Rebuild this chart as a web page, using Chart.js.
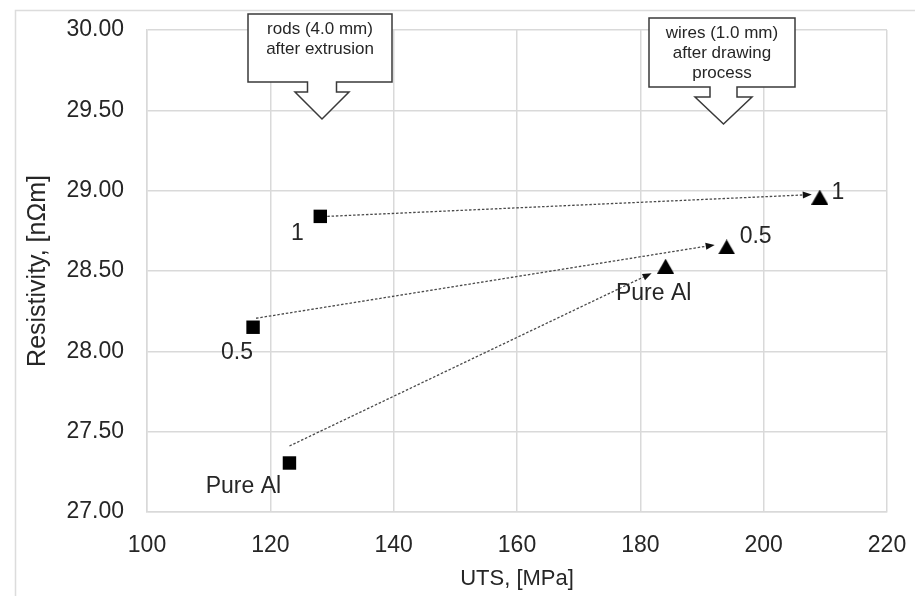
<!DOCTYPE html>
<html><head><meta charset="utf-8">
<script src="https://cdn.jsdelivr.net/npm/chart.js@4"></script>
<style>html,body{margin:0;padding:0;background:#fff;overflow:hidden}canvas{display:block}</style>
</head><body>
<canvas id="c" width="915" height="596"></canvas>
<script>
// ---- data ----
const pointLabels = ['Pure Al', '0.5', '1'];
const rodUTS = [123.1, 117.2, 128.1];
const rodResistivity = [27.305, 28.15, 28.84];
const wireUTS = [184.1, 194.0, 209.1];
const wireResistivity = [28.53, 28.65, 28.96];
const xTicks = [100, 120, 140, 160, 180, 200, 220];
const yTicks = [27.0, 27.5, 28.0, 28.5, 29.0, 29.5, 30.0];
const rodsCalloutText = ['rods (4.0 mm)', 'after extrusion'];
const wiresCalloutText = ['wires (1.0 mm)', 'after drawing', 'process'];
const xTitle = 'UTS, [MPa]';
const yTitle = 'Resistivity, [nΩm]';

// ---- style ----
const FONT = "'Liberation Sans', Arial, sans-serif";
const TEXT = '#262626';
const GRID = '#d9d9d9';

function triangleMarker(w, h, color) {
  const c = document.createElement('canvas');
  c.width = w; c.height = h;
  const g = c.getContext('2d');
  g.fillStyle = color;
  g.beginPath(); g.moveTo(0, h); g.lineTo(w, h); g.lineTo(w / 2, 0); g.closePath(); g.fill();
  return c;
}

const style = {
  rodLabelOffsets: [[-46, 24], [-16, 25], [-23, 17]],
  wireLabelOffsets: [[-12, 27], [29, -10], [18, -4]],
  arrowStartOffsets: [[0, -17], [3, -9], [7, 0]],
  arrowEndOffsets: [[-14, 7], [-12, -2], [-8, -2.5]],
  callouts: [
    { lines: rodsCalloutText, L: 248, R: 392, T: 14, B: 82, cx: 322, stemHalf: 14.5, stemH: 10, wingHalf: 27, tipY: 119 },
    { lines: wiresCalloutText, L: 649, R: 795, T: 18, B: 87, cx: 723.5, stemHalf: 13.5, stemH: 10, wingHalf: 28.5, tipY: 124 }
  ]
};

const framePlugin = {
  id: 'frame',
  beforeDraw(chart) {
    const ctx = chart.ctx;
    ctx.save();
    ctx.fillStyle = '#fff';
    ctx.fillRect(0, 0, chart.width, chart.height);
    ctx.strokeStyle = '#dcdcdc';
    ctx.lineWidth = 1.5;
    ctx.beginPath();
    ctx.moveTo(15.5, chart.height + 2); ctx.lineTo(15.5, 10.5); ctx.lineTo(chart.width + 2, 10.5);
    ctx.stroke();
    ctx.restore();
  }
};

const annotPlugin = {
  id: 'annot',
  afterDatasetsDraw(chart) {
    const ctx = chart.ctx;
    const xs = chart.scales.x, ys = chart.scales.y;
    ctx.save();
    // arrows
    for (let i = 0; i < rodUTS.length; i++) {
      const sx = xs.getPixelForValue(rodUTS[i]) + style.arrowStartOffsets[i][0];
      const sy = ys.getPixelForValue(rodResistivity[i]) + style.arrowStartOffsets[i][1];
      const ex = xs.getPixelForValue(wireUTS[i]) + style.arrowEndOffsets[i][0];
      const ey = ys.getPixelForValue(wireResistivity[i]) + style.arrowEndOffsets[i][1];
      const ang = Math.atan2(ey - sy, ex - sx);
      const hl = 9, hw = 3.5;
      const bx = ex - hl * Math.cos(ang), by = ey - hl * Math.sin(ang);
      ctx.strokeStyle = '#4a4a4a';
      ctx.lineWidth = 1.3;
      ctx.setLineDash([2.5, 1.8]);
      ctx.beginPath(); ctx.moveTo(sx, sy); ctx.lineTo(bx, by); ctx.stroke();
      ctx.setLineDash([]);
      ctx.fillStyle = '#111';
      ctx.beginPath();
      ctx.moveTo(ex, ey);
      ctx.lineTo(bx - hw * Math.sin(ang), by + hw * Math.cos(ang));
      ctx.lineTo(bx + hw * Math.sin(ang), by - hw * Math.cos(ang));
      ctx.closePath(); ctx.fill();
    }
    // point labels
    ctx.fillStyle = TEXT;
    ctx.font = '23px ' + FONT;
    ctx.textAlign = 'center';
    ctx.textBaseline = 'middle';
    for (let i = 0; i < pointLabels.length; i++) {
      ctx.fillText(pointLabels[i], xs.getPixelForValue(rodUTS[i]) + style.rodLabelOffsets[i][0], ys.getPixelForValue(rodResistivity[i]) + style.rodLabelOffsets[i][1]);
      ctx.fillText(pointLabels[i], xs.getPixelForValue(wireUTS[i]) + style.wireLabelOffsets[i][0], ys.getPixelForValue(wireResistivity[i]) + style.wireLabelOffsets[i][1]);
    }
    // callouts
    for (const c of style.callouts) {
      const y2 = c.B + c.stemH;
      ctx.beginPath();
      ctx.moveTo(c.L, c.T); ctx.lineTo(c.R, c.T); ctx.lineTo(c.R, c.B);
      ctx.lineTo(c.cx + c.stemHalf, c.B); ctx.lineTo(c.cx + c.stemHalf, y2);
      ctx.lineTo(c.cx + c.wingHalf, y2); ctx.lineTo(c.cx, c.tipY);
      ctx.lineTo(c.cx - c.wingHalf, y2); ctx.lineTo(c.cx - c.stemHalf, y2);
      ctx.lineTo(c.cx - c.stemHalf, c.B); ctx.lineTo(c.L, c.B); ctx.closePath();
      ctx.fillStyle = '#fff'; ctx.fill();
      ctx.strokeStyle = '#3a3a3a'; ctx.lineWidth = 1.5; ctx.stroke();
      ctx.fillStyle = TEXT;
      ctx.font = '17px ' + FONT;
      c.lines.forEach((t, k) => ctx.fillText(t, (c.L + c.R) / 2, c.T + 15.5 + k * 20));
    }
    ctx.restore();
  }
};

const tickFont = { family: FONT, size: 23 };
const xTitleFont = { family: FONT, size: 22 };
const yTitleFont = { family: FONT, size: 25 };

new Chart(document.getElementById('c'), {
  type: 'scatter',
  data: {
    datasets: [
      {
        label: 'rods',
        data: rodUTS.map((x, i) => ({ x, y: rodResistivity[i] })),
        pointStyle: 'rect', pointRadius: 9.5, pointBorderWidth: 0,
        backgroundColor: '#000', borderColor: '#000'
      },
      {
        label: 'wires',
        data: wireUTS.map((x, i) => ({ x, y: wireResistivity[i] })),
        pointStyle: triangleMarker(17, 15, '#000'), pointRadius: 9, pointBorderWidth: 0,
        backgroundColor: '#000', borderColor: '#000'
      }
    ]
  },
  options: {
    responsive: false,
    animation: false,
    events: [],
    layout: { padding: { left: 0, right: 28, top: 30, bottom: 0 } },
    plugins: { legend: { display: false }, tooltip: { enabled: false } },
    scales: {
      x: {
        type: 'linear', min: xTicks[0], max: xTicks[xTicks.length - 1],
        afterBuildTicks: s => { s.ticks = xTicks.map(v => ({ value: v })); },
        afterFit: s => { s.height = 84; s.paddingLeft = 0; s.paddingRight = 0; },
        grid: { color: GRID, lineWidth: 1.5, drawTicks: false },
        border: { color: GRID, width: 1.5 },
        ticks: { font: tickFont, color: TEXT, padding: 20, maxRotation: 0, callback: v => String(v) },
        title: { display: true, text: xTitle, font: xTitleFont, color: TEXT, padding: { top: 0, bottom: 4 } }
      },
      y: {
        type: 'linear', min: yTicks[0], max: yTicks[yTicks.length - 1],
        afterBuildTicks: s => { s.ticks = yTicks.map(v => ({ value: v })); },
        afterFit: s => { s.width = 147; s.paddingTop = 0; s.paddingBottom = 0; },
        grid: { color: GRID, lineWidth: 1.5, drawTicks: false },
        border: { color: GRID, width: 1.5 },
        ticks: { font: tickFont, color: TEXT, padding: 23, callback: v => Number(v).toFixed(2) },
        title: { display: true, text: yTitle, font: yTitleFont, color: TEXT, padding: { top: 23, bottom: 0 } }
      }
    }
  },
  plugins: [framePlugin, annotPlugin]
});
</script>
</body></html>
